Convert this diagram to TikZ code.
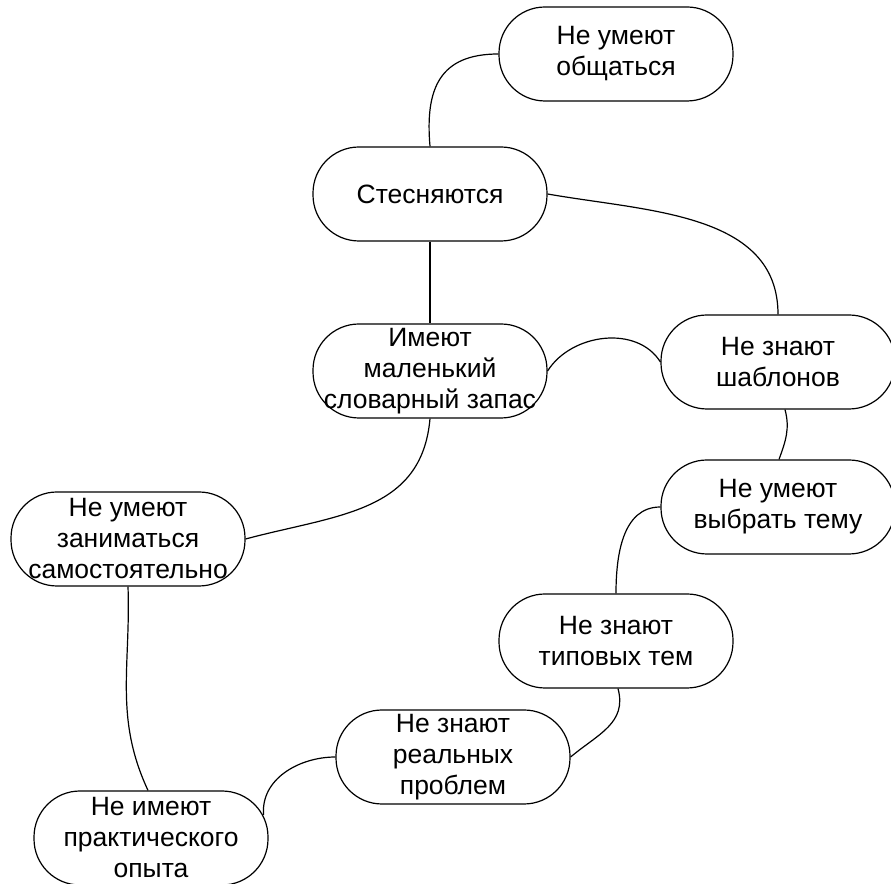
\documentclass[tikz,border=0pt]{standalone}
\usepackage{fontspec}
\setmainfont{Liberation Sans}
\begin{document}
\begin{tikzpicture}[x=1pt,y=1pt,line width=1.2pt,
  box/.style={draw, rectangle, rounded corners=46pt, minimum width=234pt, minimum height=94pt,
    inner sep=0pt, align=center, font=\fontsize{26.5}{31}\selectfont},
  link/.style={draw}]
\useasboundingbox (0,0) rectangle (891,883);
\node[box] (comm) at (616,829) {Не умеют\\общаться};
\node[box] (s) at (430,689) {Стесняются};
\node[box] (im) at (430,512) {Имеют\\маленький\\словарный запас};
\node[box] (sh) at (778,521) {Не знают\\шаблонов};
\node[box] (vt) at (778,376) {Не умеют\\выбрать тему};
\node[box] (tt) at (616,242) {Не знают\\типовых тем};
\node[box] (rp) at (453,126) {Не знают\\реальных\\проблем};
\node[box] (sz) at (128,344) {Не умеют\\заниматься\\самостоятельно};
\node[box] (np) at (151,45) {Не имеют\\практического\\опыта};

\draw[link] (s.north) to[out=95,in=180,looseness=1.3] (comm.west);
\draw[link] (s.east) to[out=-10,in=90] (sh.north);
\draw[link] (s.south) -- (im.north);
\draw[link] (im.east) to[out=58,in=122] (sh.west);
\draw[link] ([xshift=7pt]sh.south) to[out=-75,in=70] ([xshift=1pt]vt.north);
\draw[link] (vt.west) to[out=180,in=90] (tt.north);
\draw[link] ([xshift=2pt]tt.south) to[out=-75,in=40,looseness=1.1] (rp.east);
\draw[link] (rp.west) to[out=180,in=95] ([xshift=-5pt,yshift=23pt]np.east);
\draw[link] (im.south) to[out=-95,in=15,looseness=1.1] (sz.east);
\draw[link] (sz.south) to[out=-88,in=115] ([xshift=-3pt]np.north);
\end{tikzpicture}
\end{document}
